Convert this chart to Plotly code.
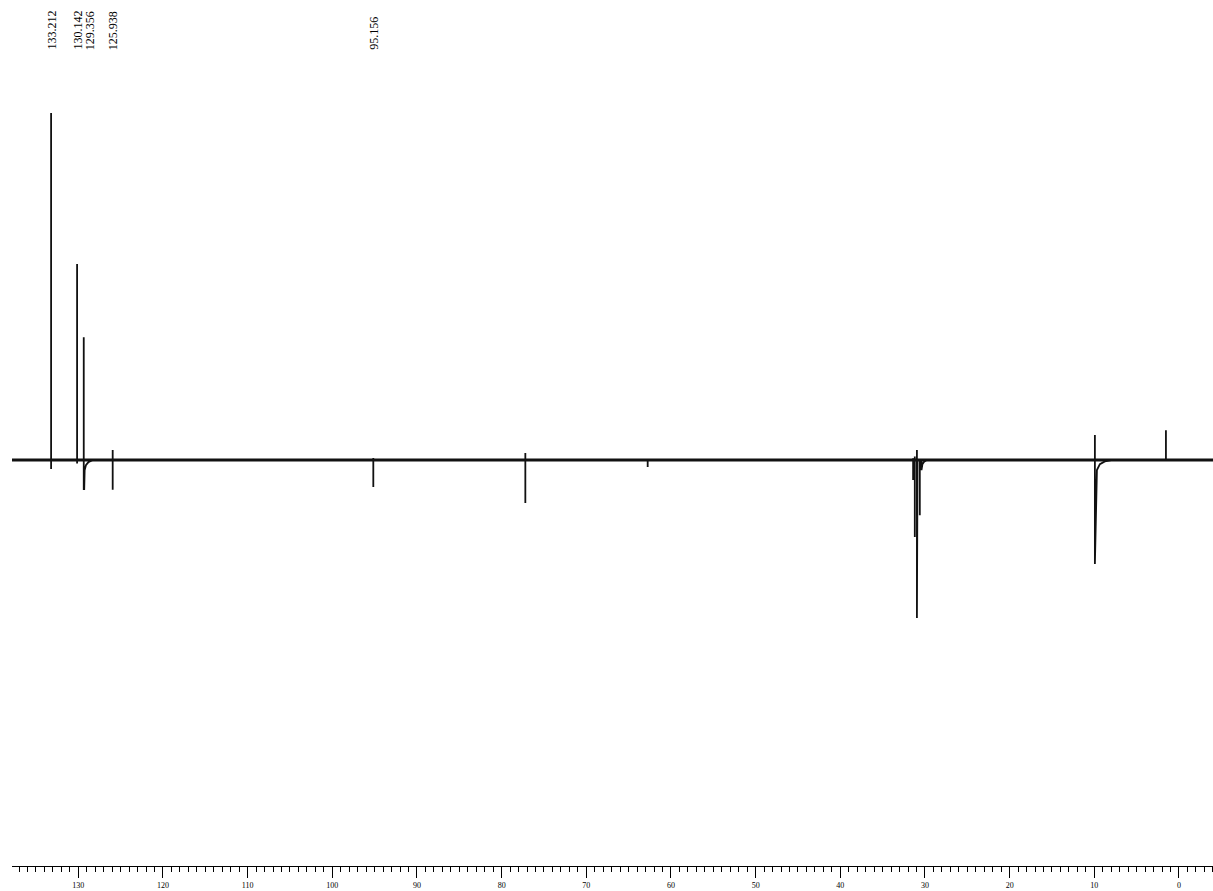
import plotly.graph_objects as go

# ---- data (ppm, intensity in relative units) ----
peak_ppm = [133.212, 130.142, 129.356, 125.938, 95.156, 77.20, 62.75,
            31.40, 31.20, 30.95, 30.88, 30.61, 30.41, 9.93, 1.54]
peak_up = [100.0, 56.5, 35.4, 2.9, 0.6, 2.0, 0.0,
           0.5, 1.0, 2.9, 0.0, 0.0, 0.0, 7.2, 8.6]
peak_down = [-2.6, -1.0, -8.4, -8.6, -7.8, -12.4, -2.0,
             -5.8, -22.2, -45.5, -43.5, -15.9, -2.9, -30.0, 0.0]

# dispersive tails following some peaks (ppm, intensity)
tail_129_ppm = [129.30, 129.25, 129.10, 128.80, 128.30]
tail_129_int = [-8.4, -3.0, -1.5, -0.6, 0.0]
tail_10_ppm = [9.69, 9.34, 8.75, 8.00]
tail_10_int = [-2.9, -1.2, -0.4, 0.0]
tail_30_ppm = [30.30, 30.10, 29.80]
tail_30_int = [-1.2, -0.5, 0.0]

label_values = ["133.212", "130.142", "129.356", "125.938", "95.156"]
label_shift_px = [0, 0, 6, 0, 0]

x_start, x_end = 137.83, -4.02

# ---- build spectrum trace from the peak table ----
xs, ys = [x_start], [0.0]
tails = {129.356: (tail_129_ppm, tail_129_int),
         9.93: (tail_10_ppm, tail_10_int),
         30.41: (tail_30_ppm, tail_30_int)}
for p, u, d in zip(peak_ppm, peak_up, peak_down):
    xs += [p, p, p]
    ys += [0.0, u, d]
    if p in tails:
        tx, ty = tails[p]
        xs += tx
        ys += ty
    else:
        xs.append(p)
        ys.append(0.0)
xs.append(x_end)
ys.append(0.0)

fig = go.Figure()
fig.add_trace(go.Scatter(x=[x_start, x_end], y=[0, 0], mode="lines",
                         line=dict(color="#111111", width=3),
                         hoverinfo="skip", showlegend=False))
fig.add_trace(go.Scatter(x=xs, y=ys, mode="lines",
                         line=dict(color="#111111", width=1.8),
                         showlegend=False))

H, W = 891, 1213
mt, mb = 0, 25
plot_h = H - mt - mb

for val, sh in zip(label_values, label_shift_px):
    fig.add_annotation(
        x=float(val), xref="x", y=(plot_h - 52) / plot_h, yref="paper",
        text=val, textangle=-90, showarrow=False,
        xanchor="center", yanchor="bottom", xshift=sh,
        font=dict(family="Liberation Serif", size=12, color="black"))

fig.update_layout(
    width=W, height=H,
    margin=dict(l=12, r=0, t=mt, b=mb),
    paper_bgcolor="white", plot_bgcolor="white",
    xaxis=dict(range=[x_start, x_end], showgrid=False, zeroline=False,
               showline=True, linecolor="black", linewidth=1,
               ticks="outside", ticklen=11, tickwidth=1, tickcolor="black",
               dtick=10, tick0=0,
               minor=dict(ticks="outside", ticklen=5, tickwidth=1,
                          tickcolor="black", dtick=1, showgrid=False),
               tickfont=dict(family="Liberation Serif", size=8, color="black")),
    yaxis=dict(range=[-117.0, 132.56], visible=False, showgrid=False,
               zeroline=False),
)

fig.write_html("out.html")
